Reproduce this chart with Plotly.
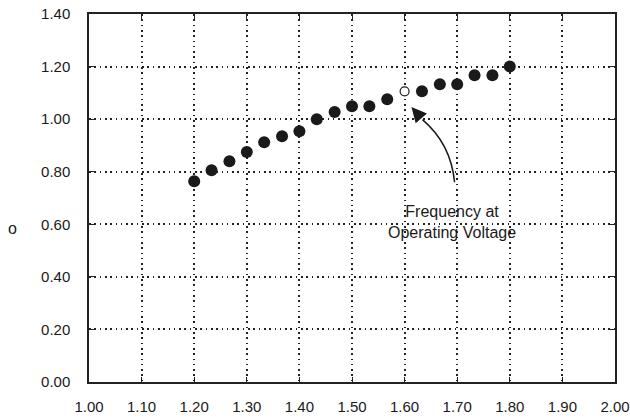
import plotly.graph_objects as go

# Supply voltage (V) and normalized frequency
voltage = [1.200, 1.233, 1.267, 1.300, 1.333, 1.367, 1.400, 1.433, 1.467, 1.500,
           1.533, 1.567, 1.633, 1.667, 1.700, 1.733, 1.767, 1.800]
frequency = [0.764, 0.806, 0.840, 0.875, 0.912, 0.935, 0.954, 1.000, 1.027, 1.049,
             1.049, 1.076, 1.106, 1.133, 1.133, 1.167, 1.167, 1.200]

# Operating point (hollow marker)
op_voltage = [1.600]
op_frequency = [1.106]

x_ticks = [1.00, 1.10, 1.20, 1.30, 1.40, 1.50, 1.60, 1.70, 1.80, 1.90, 2.00]
y_ticks = [0.00, 0.20, 0.40, 0.60, 0.80, 1.00, 1.20, 1.40]

label_text = "Frequency at<br>Operating Voltage"
y_title = "ο"

FONT = "Liberation Sans, Arial, sans-serif"
INK = "#1a1a1a"

fig = go.Figure()
fig.add_trace(go.Scatter(
    x=voltage, y=frequency, mode="markers",
    marker=dict(size=12, color=INK, line=dict(width=0)),
    showlegend=False, hoverinfo="skip",
))
fig.add_trace(go.Scatter(
    x=op_voltage, y=op_frequency, mode="markers",
    marker=dict(size=9, color="white", line=dict(width=1.2, color=INK)),
    showlegend=False, hoverinfo="skip",
))

# Curved arrow body
fig.add_shape(
    type="path", xref="x", yref="y",
    path="M 1.695,0.760 Q 1.688,0.906 1.634,0.998",
    line=dict(color=INK, width=1.5),
)
# Arrow head
fig.add_annotation(
    x=1.613, y=1.046, ax=1.634, ay=0.998, xref="x", yref="y", axref="x", ayref="y",
    text="", showarrow=True, arrowhead=2, arrowsize=2.0, arrowwidth=1.5, arrowcolor=INK,
)
fig.add_annotation(x=1.690, y=0.610, xref="x", yref="y", text=label_text,
                   showarrow=False, align="center",
                   font=dict(family=FONT, size=16, color=INK))
fig.add_annotation(x=-0.158, y=0.585, xref="paper", yref="y", text=y_title,
                   showarrow=False, textangle=0,
                   font=dict(family=FONT, size=16, color=INK))

axis_common = dict(
    showline=True, linecolor="#222", linewidth=1.5, mirror="allticks",
    ticks="inside", ticklen=5, tickwidth=1.2, tickcolor="#222",
    showgrid=True, gridcolor="#222", gridwidth=1.6, griddash="1.6px,3.7px",
    zeroline=False, tickformat=".2f", automargin=False,
    tickfont=dict(family=FONT, size=15, color=INK),
)

fig.update_xaxes(range=[1.0, 2.0], tickvals=x_ticks, ticklabelstandoff=10, **axis_common)
fig.update_yaxes(range=[0.0, 1.4], tickvals=y_ticks, ticklabelstandoff=14, **axis_common)

fig.update_layout(
    width=630, height=419,
    margin=dict(l=89, r=15, t=14, b=37),
    paper_bgcolor="white", plot_bgcolor="white",
    font=dict(family=FONT, color=INK),
)

fig.write_html("out.html", config={"displayModeBar": False},
               post_script="document.body.style.margin='0';")
